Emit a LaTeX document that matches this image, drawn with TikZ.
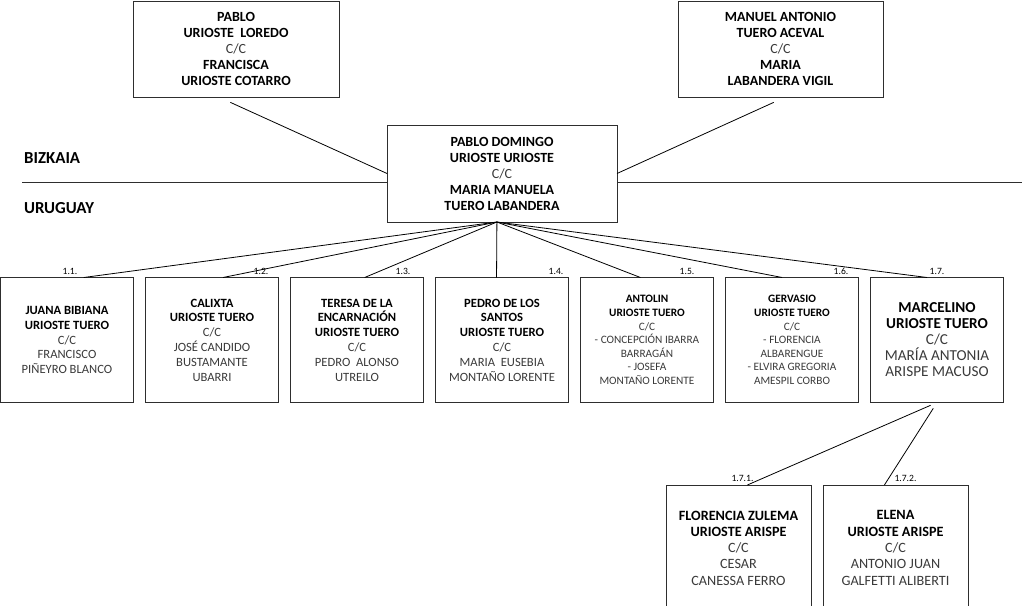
\documentclass[tikz,border=0pt]{standalone}
\usepackage{fontspec}
\setmainfont{Carlito}
\usetikzlibrary{positioning, calc}
\definecolor{spouse}{HTML}{3A3A3A}
\definecolor{frame}{HTML}{2E2E2E}
\newcommand{\nm}[1]{{\color{black}\bfseries #1}}
\tikzset{
	node distance=12pt,
	person/.style={draw=frame, line width=0.8pt, align=center, text=spouse, inner sep=0pt, outer sep=0pt},
	couple/.style={person, minimum width=206pt, minimum height=96pt, font=\fontsize{14}{16}\selectfont},
	child/.style={person, minimum width=133pt, minimum height=125pt, font=\fontsize{12.6}{14.8}\selectfont},
	smallchild/.style={child, font=\fontsize{11.3}{13.6}\selectfont},
	bigchild/.style={child, font=\fontsize{15.2}{16}\selectfont},
	grandchild/.style={person, minimum width=145pt, minimum height=126pt, font=\fontsize{14.2}{16.3}\selectfont},
	num/.style={font=\fontsize{9.6}{10}\selectfont, inner sep=1pt},
	region/.style={font=\bfseries\fontsize{16.8}{18}\selectfont, anchor=west, inner sep=0pt},
	link/.style={line width=0.8pt},
}

\begin{document}
\begin{tikzpicture}[x=1pt, y=-1pt]
	\useasboundingbox (0,0) rectangle (1024,605);
	\clip (0,0) rectangle (1024,605);

	% Bizkaia
	\node[couple] (PABLO) at (236,49) {\nm{PABLO}\\\nm{URIOSTE\ \ LOREDO}\\C/C\\\nm{FRANCISCA}\\\nm{URIOSTE COTARRO}};
	\node[couple, minimum width=205pt] (MANUEL) at (780.5,49) {\nm{MANUEL ANTONIO}\\\nm{TUERO ACEVAL}\\C/C\\\nm{MARIA}\\\nm{LABANDERA VIGIL}};
	\node[couple, minimum width=230pt, minimum height=97pt] (PDOMINGO) at (502,173.5) {\nm{PABLO DOMINGO}\\\nm{URIOSTE URIOSTE}\\C/C\\\nm{MARIA MANUELA}\\\nm{TUERO LABANDERA}};

	\coordinate (LEFT) at (22,182);
	\coordinate (RIGHT) at (1022,182);
	\draw[line width=0.6pt, frame] (LEFT) -- (LEFT -| PDOMINGO.west);
	\draw[line width=0.6pt, frame] (RIGHT -| PDOMINGO.east) -- (RIGHT);
	\node[region] (BIZKAIA) at (24,158) {BIZKAIA};
	\node[region] (URUGUAY) at (24,208) {URUGUAY};

	\draw[link] (PABLO.250) edge[shorten <=13pt] (PDOMINGO.west);
	\draw[link] (MANUEL.276) edge[shorten <=13pt] (PDOMINGO.east);

	% Uruguay, children
	\node[child] (JUANA) at (67,340) {\nm{JUANA BIBIANA}\\\nm{URIOSTE TUERO}\\C/C\\FRANCISCO\\PIÑEYRO BLANCO};
	\node[child, right=of JUANA] (CALIXTA) {\nm{CALIXTA}\\\nm{URIOSTE TUERO}\\C/C\\JOSÉ CANDIDO\\BUSTAMANTE\\UBARRI};
	\node[child, right=of CALIXTA] (TERESA) {\nm{TERESA DE LA}\\\nm{ENCARNACIÓN}\\\nm{URIOSTE TUERO}\\C/C\\PEDRO\ \ ALONSO\\UTREILO};
	\node[child, right=of TERESA] (PEDRO) {\nm{PEDRO DE LOS}\\\nm{SANTOS}\\\nm{URIOSTE TUERO}\\C/C\\MARIA\ \ EUSEBIA\\MONTAÑO LORENTE};
	\node[smallchild, right=of PEDRO] (ANTOLIN) {\nm{ANTOLIN}\\\nm{URIOSTE TUERO}\\C/C\\- CONCEPCIÓN IBARRA\\BARRAGÁN\\- JOSEFA\\MONTAÑO LORENTE};
	\node[smallchild, right=of ANTOLIN] (GERVASIO) {\nm{GERVASIO}\\\nm{URIOSTE TUERO}\\C/C\\- FLORENCIA\\ALBARENGUE\\- ELVIRA GREGORIA\\AMESPIL CORBO};
	\node[bigchild, right=of GERVASIO] (MARCELINO) {\nm{MARCELINO}\\\nm{URIOSTE TUERO}\\C/C\\MARÍA ANTONIA\\ARISPE MACUSO};

	\node[num, above=2pt of JUANA.north, xshift=3pt] (N1) {1.1.};
	\node[num, above left=2pt and 9pt of CALIXTA.north east] (N2) {1.2.};
	\node[num, above left=2pt and 12pt of TERESA.north east] (N3) {1.3.};
	\node[num, above left=2pt and 4pt of PEDRO.north east] (N4) {1.4.};
	\node[num, above left=2pt and 18pt of ANTOLIN.north east] (N5) {1.5.};
	\node[num, above left=2pt and 9pt of GERVASIO.north east] (N6) {1.6.};
	\node[num, above=2pt of MARCELINO.north] (N7) {1.7.};

	\draw[link] (PDOMINGO.264) edge (JUANA.75);
	\draw[link] (PDOMINGO.264) edge (CALIXTA.80);
	\draw[link] (PDOMINGO.264) edge (TERESA.83);
	\draw[link] (PDOMINGO.264) edge (PEDRO.95);
	\draw[link] (PDOMINGO.264) edge (ANTOLIN.96);
	\draw[link] (PDOMINGO.264) edge (GERVASIO.99);
	\draw[link] (PDOMINGO.264) edge (MARCELINO.99);

	% grandchildren
	\node[grandchild, anchor=north] (FLORENCIA) at (738.5,485) {\nm{FLORENCIA ZULEMA}\\\nm{URIOSTE ARISPE}\\C/C\\CESAR\\CANESSA FERRO};
	\node[grandchild, right=of FLORENCIA] (ELENA) {\nm{ELENA}\\\nm{URIOSTE ARISPE}\\C/C\\ANTONIO JUAN\\GALFETTI ALIBERTI};

	\node[num, above=2pt of FLORENCIA.north, xshift=4pt] (N71) {1.7.1.};
	\node[num, above=2pt of ELENA.north, xshift=10pt] (N72) {1.7.2.};

	\draw[link] (MARCELINO.south) edge[shorten <=7pt] (FLORENCIA.82);
	\draw[link] (MARCELINO.south) edge[shorten <=7pt] (ELENA.100);
\end{tikzpicture}
\end{document}
